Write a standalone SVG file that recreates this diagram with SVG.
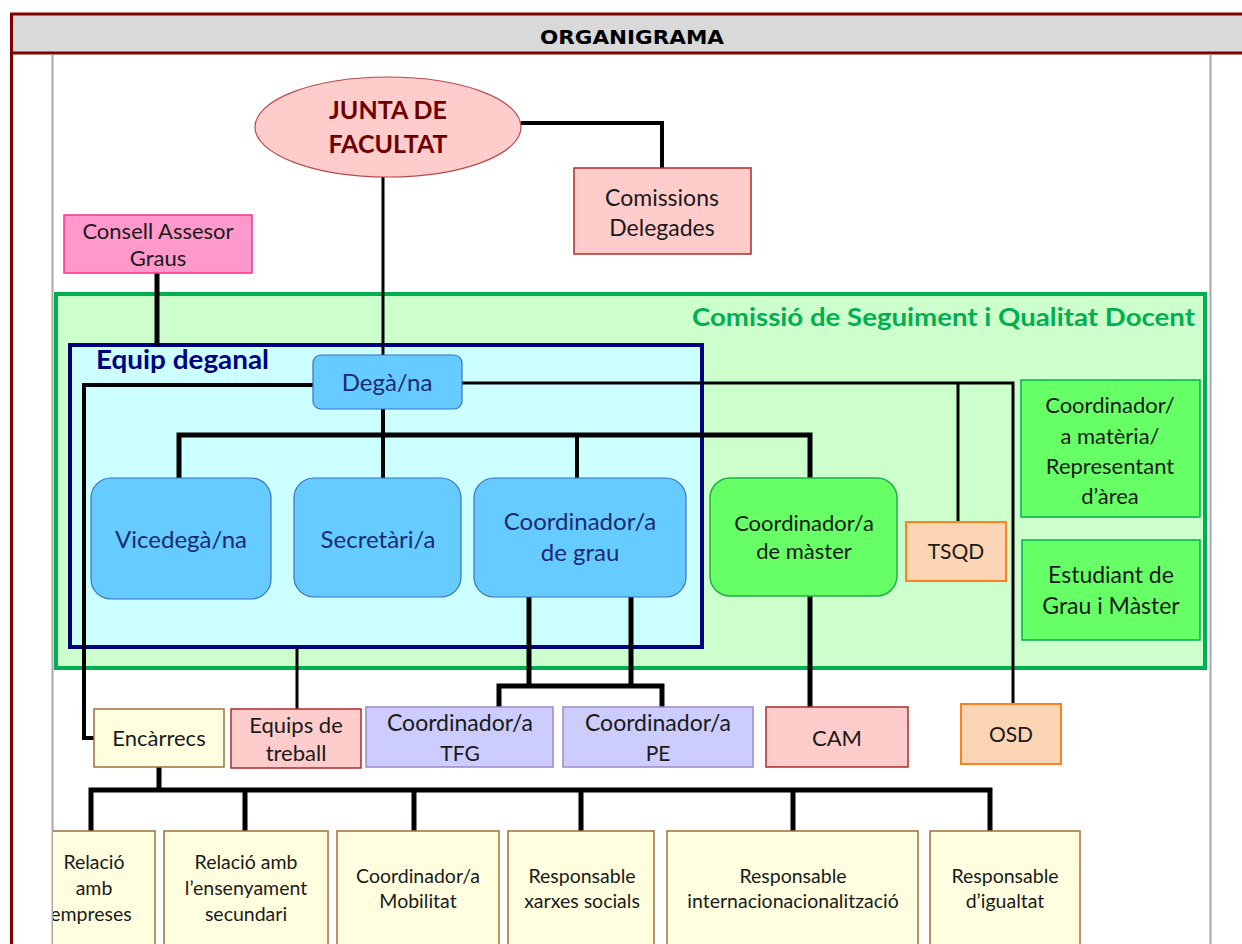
<svg xmlns="http://www.w3.org/2000/svg" width="1242" height="944" viewBox="0 0 1242 944">
<style>
  text { font-family: Lato, "Open Sans", "Liberation Sans", sans-serif; text-anchor: middle; }
  .hdr { font-family: "DejaVu Sans", Verdana, sans-serif; font-weight: bold; font-size: 19.5px; fill: #000; }
  .blue { fill: #66ccff; stroke: #3b6fc4; stroke-width: 1.2; }
  .bt { fill: #1c2a72; font-size: 24px; }
  .green { fill: #66ff66; stroke: #22b04a; stroke-width: 1.5; }
  .pink { fill: #ffcccc; stroke: #b22a2a; stroke-width: 1.5; }
  .orange { fill: #fcd5b4; stroke: #ff8020; stroke-width: 2; }
  .lav { fill: #ccccff; stroke: #9a8ac0; stroke-width: 1.5; }
  .yel { fill: #ffffe0; stroke: #a0703a; stroke-width: 1.5; }
  .t23 { fill: #1a1a1a; font-size: 23px; }
  .t22 { fill: #1a1a1a; font-size: 22px; }
  .t21 { fill: #1a1a1a; font-size: 21px; }
  .t19 { fill: #1a1a1a; font-size: 19.5px; }
  .c { fill: none; stroke: #000; stroke-linejoin: miter; }
  .w3 { stroke-width: 3; }
  .w4 { stroke-width: 4; }
  .w5 { stroke-width: 5; }
</style>
<defs>
  <clipPath id="inner"><rect x="53" y="55" width="1157" height="889"/></clipPath>
</defs>
<rect x="0" y="0" width="1242" height="944" fill="#fff"/>
<!-- frame -->
<g id="frame">
  <rect x="11.5" y="14.5" width="1240" height="38" fill="#d9d9d9" stroke="none"/>
  <line x1="10" y1="14" x2="1242" y2="14" stroke="#800000" stroke-width="3"/>
  <line x1="11.5" y1="13" x2="11.5" y2="944" stroke="#800000" stroke-width="3"/>
  <line x1="10" y1="53" x2="1242" y2="53" stroke="#800000" stroke-width="3"/>
  <text class="hdr" x="632" y="44" textLength="184" lengthAdjust="spacingAndGlyphs">ORGANIGRAMA</text>
  <line x1="52.5" y1="55" x2="52.5" y2="944" stroke="#a8a8a8" stroke-width="2"/>
  <line x1="1210.5" y1="55" x2="1210.5" y2="944" stroke="#a8a8a8" stroke-width="2"/>
</g>

<!-- containers -->
<g id="csqd">
  <rect x="56" y="294" width="1149" height="374" fill="#ccffcc" stroke="#00b050" stroke-width="4"/>
  <text x="1195" y="326" textLength="503" lengthAdjust="spacingAndGlyphs" style="text-anchor:end;font-weight:bold;font-size:25px;fill:#00b050">Comissió de Seguiment i Qualitat Docent</text>
</g>
<g id="equip-deganal">
  <rect x="70" y="345" width="632" height="302" fill="#ccffff" stroke="#000080" stroke-width="4"/>
  <text x="96" y="369" textLength="173" lengthAdjust="spacingAndGlyphs" style="text-anchor:start;font-weight:bold;font-size:26px;fill:#000080">Equip deganal</text>
</g>

<!-- connectors -->
<g id="connectors">
  <polyline class="c w4" points="521,123 662,123 662,168"/>
  <line class="c w3" x1="383" y1="177" x2="383" y2="355"/>
  <line class="c w5" x1="157" y1="273" x2="157" y2="346"/>
  <polyline class="c w4" points="313,385 84,385 84,738 94,738"/>
  <polyline class="c w3" points="462,383 1013,383 1013,704"/>
  <line class="c w3" x1="958" y1="383" x2="958" y2="522"/>
  <line class="c w4" x1="383" y1="409" x2="383" y2="478"/>
  <polyline class="c w5" points="179,478 179,435 810,435 810,478"/>
  <line class="c w4" x1="577" y1="435" x2="577" y2="478"/>
  <polyline class="c w5" points="529,597 529,686"/>
  <polyline class="c w5" points="631,597 631,686"/>
  <polyline class="c w5" points="499,708 499,686 662,686 662,708"/>
  <line class="c w3" x1="297" y1="648" x2="297" y2="709"/>
  <line class="c w5" x1="810" y1="596" x2="810" y2="707"/>
  <line class="c w5" x1="159" y1="767" x2="159" y2="790"/>
  <polyline class="c w5" points="91,831 91,790 990,790 990,831"/>
  <line class="c w5" x1="245" y1="790" x2="245" y2="831"/>
  <line class="c w5" x1="414" y1="790" x2="414" y2="831"/>
  <line class="c w5" x1="581" y1="790" x2="581" y2="831"/>
  <line class="c w5" x1="793" y1="790" x2="793" y2="831"/>
</g>

<!-- nodes -->
<g id="junta">
  <ellipse cx="388" cy="127" rx="133" ry="50" fill="#ffcccc" stroke="#b84a4a" stroke-width="1.2"/>
  <text x="388" y="119" style="font-size:25px;font-weight:bold;fill:#6e0000">JUNTA DE</text>
  <text x="388" y="153" style="font-size:25px;font-weight:bold;fill:#6e0000">FACULTAT</text>
</g>
<g id="comissions">
  <rect class="pink" x="574" y="168" width="177" height="86"/>
  <text class="t23" x="662" y="206">Comissions</text>
  <text class="t23" x="662" y="236">Delegades</text>
</g>
<g id="consell">
  <rect x="64" y="215" width="188" height="58" fill="#ff99cc" stroke="#ff2f92" stroke-width="1.5"/>
  <text class="t22" x="158" y="239">Consell Assesor</text>
  <text class="t22" x="158" y="266">Graus</text>
</g>
<g id="dega">
  <rect class="blue" x="313" y="355" width="149" height="54" rx="8"/>
  <text class="bt" x="387" y="391">Degà/na</text>
</g>
<g id="vicedega">
  <rect class="blue" x="91" y="478" width="180" height="121" rx="20"/>
  <text class="bt" x="181" y="548">Vicedegà/na</text>
</g>
<g id="secretari">
  <rect class="blue" x="294" y="478" width="167" height="119" rx="20"/>
  <text class="bt" x="378" y="548">Secretàri/a</text>
</g>
<g id="coord-grau">
  <rect class="blue" x="474" y="478" width="212" height="119" rx="20"/>
  <text class="bt" x="580" y="530">Coordinador/a</text>
  <text class="bt" x="580" y="561">de grau</text>
</g>
<g id="coord-master">
  <rect class="green" x="710" y="478" width="187" height="118" rx="20"/>
  <text class="t22" x="804" y="531">Coordinador/a</text>
  <text class="t22" x="804" y="559">de màster</text>
</g>
<g id="tsqd">
  <rect class="orange" x="906" y="522" width="100" height="59"/>
  <text class="t21" x="956" y="559">TSQD</text>
</g>
<g id="coord-materia">
  <rect x="1021" y="380" width="179" height="137" fill="#66ff66" stroke="#00b050" stroke-width="1.5"/>
  <text class="t22" x="1110" y="413">Coordinador/</text>
  <text class="t22" x="1110" y="444">a matèria/</text>
  <text class="t22" x="1110" y="474">Representant</text>
  <text class="t22" x="1110" y="504">d’àrea</text>
</g>
<g id="estudiant">
  <rect x="1022" y="540" width="178" height="100" fill="#66ff66" stroke="#00b050" stroke-width="1.5"/>
  <text class="t23" x="1111" y="583">Estudiant de</text>
  <text class="t23" x="1111" y="614">Grau i Màster</text>
</g>
<g id="encarrecs">
  <rect class="yel" x="94" y="709" width="130" height="58"/>
  <text class="t22" x="159" y="746">Encàrrecs</text>
</g>
<g id="equips-treball">
  <rect class="pink" x="231" y="709" width="130" height="59"/>
  <text class="t22" x="296" y="733">Equips de</text>
  <text class="t22" x="296" y="761">treball</text>
</g>
<g id="coord-tfg">
  <rect class="lav" x="366" y="707" width="187" height="60"/>
  <text class="t23" x="460" y="731">Coordinador/a</text>
  <text class="t21" x="460" y="761">TFG</text>
</g>
<g id="coord-pe">
  <rect class="lav" x="563" y="707" width="190" height="60"/>
  <text class="t23" x="658" y="731">Coordinador/a</text>
  <text class="t21" x="658" y="761">PE</text>
</g>
<g id="cam">
  <rect class="pink" x="766" y="707" width="142" height="60"/>
  <text class="t22" x="837" y="746">CAM</text>
</g>
<g id="osd">
  <rect class="orange" x="961" y="704" width="100" height="60"/>
  <text class="t21" x="1011" y="742">OSD</text>
</g>
<g id="rel-empreses" clip-path="url(#inner)">
  <rect class="yel" x="48" y="831" width="107" height="120"/>
  <text class="t19" x="94" y="869">Relació</text>
  <text class="t19" x="94" y="895">amb</text>
  <text class="t19" x="91" y="921">empreses</text>
</g>
<g id="rel-ensenyament">
  <rect class="yel" x="164" y="831" width="164" height="120"/>
  <text class="t19" x="246" y="869">Relació amb</text>
  <text class="t19" x="246" y="895">l’ensenyament</text>
  <text class="t19" x="246" y="921">secundari</text>
</g>
<g id="coord-mobilitat">
  <rect class="yel" x="337" y="831" width="162" height="120"/>
  <text class="t19" x="418" y="883">Coordinador/a</text>
  <text class="t19" x="418" y="908">Mobilitat</text>
</g>
<g id="resp-xarxes">
  <rect class="yel" x="508" y="831" width="146" height="120"/>
  <text class="t19" x="582" y="883">Responsable</text>
  <text class="t19" x="582" y="908">xarxes socials</text>
</g>
<g id="resp-intern">
  <rect class="yel" x="667" y="831" width="251" height="120"/>
  <text class="t19" x="793" y="883">Responsable</text>
  <text class="t19" x="793" y="908">internacionacionalització</text>
</g>
<g id="resp-igualtat">
  <rect class="yel" x="930" y="831" width="150" height="120"/>
  <text class="t19" x="1005" y="883">Responsable</text>
  <text class="t19" x="1005" y="908">d’igualtat</text>
</g>
</svg>
